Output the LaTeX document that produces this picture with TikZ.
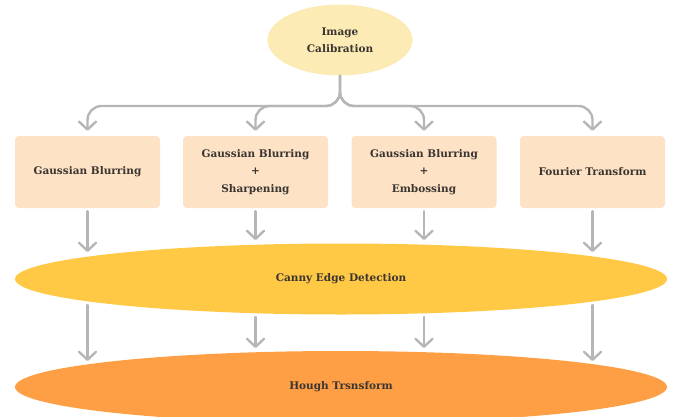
\documentclass[tikz,border=0pt]{standalone}
\usepackage{fontspec}
\setmainfont{DejaVu Serif}
\usetikzlibrary{shapes.geometric,arrows.meta}
\definecolor{boxfill}{HTML}{FEE2C6}
\definecolor{topfill}{HTML}{FDEBB5}
\definecolor{cannyfill}{HTML}{FFC845}
\definecolor{houghfill}{HTML}{FE9F45}
\definecolor{linegray}{HTML}{B6B6B6}
\definecolor{txt}{HTML}{3A3530}
\tikzset{
  x=1pt,y=1pt,
  lbl/.style={font=\bfseries\fontsize{10.5}{17.5}\selectfont, text=txt, align=center},
  procbox/.style={lbl, draw=none, fill=boxfill, rounded corners=4pt, minimum width=145pt, minimum height=72pt, inner sep=0pt},
  oval/.style={lbl, ellipse, draw=none, inner sep=0pt},
  conn/.style={draw=linegray, line width=2.4pt, line cap=round, -{Straight Barb[length=8pt,width=17pt,line width=2.4pt,round]}},
  brace/.style={conn, rounded corners=14pt, shorten >=5pt},
}
\begin{document}
\begin{tikzpicture}
\useasboundingbox (0,0) rectangle (684,416);
\begin{scope}
\clip (0,0) rectangle (684,416);
\node[oval, fill=houghfill, minimum width=652pt, minimum height=72pt] (hough) at (341,29) {Hough Trsnsform};
\end{scope}
\node[oval, fill=topfill, minimum width=145pt, minimum height=71pt] (calib) at (340,376) {Image\\Calibration};
\node[procbox] (b1) at (87.5,244) {Gaussian Blurring};
\node[procbox] (b2) at (255.5,244) {Gaussian Blurring\\+\\Sharpening};
\node[procbox] (b3) at (424,244) {Gaussian Blurring\\+\\Embossing};
\node[procbox] (b4) at (592.5,244) {Fourier Transform};
\node[oval, fill=cannyfill, minimum width=652pt, minimum height=71pt] (canny) at (341,137) {Canny Edge Detection};

% brace
\coordinate (j) at (340,310);
\coordinate (j1) at (87.5,310);
\coordinate (j2) at (255.5,310);
\coordinate (j3) at (424,310);
\coordinate (j4) at (592.5,310);
\draw[brace] (calib.south) -- (j) -- (j1) -- (b1.north);
\draw[brace] (calib.south) -- (j) -- (j2) -- (b2.north);
\draw[brace] (calib.south) -- (j) -- (j3) -- (b3.north);
\draw[brace] (calib.south) -- (j) -- (j4) -- (b4.north);

% boxes to canny
\coordinate (c1) at (87.5,164);
\coordinate (c2) at (255.5,176);
\coordinate (c3) at (424,176);
\coordinate (c4) at (592.5,164);
\draw[conn] (b1.south) ++(0,-3) -- (c1);
\draw[conn] (b2.south) ++(0,-3) -- (c2);
\draw[conn] (b3.south) ++(0,-3) -- (c3);
\draw[conn] (b4.south) ++(0,-3) -- (c4);

% canny to hough
\coordinate (h1) at (87.5,55);
\coordinate (h2) at (255.5,68);
\coordinate (h3) at (424,68);
\coordinate (h4) at (592.5,55);
\draw[conn] (87.5,111) -- (h1);
\draw[conn] (255.5,99) -- (h2);
\draw[conn] (424,99) -- (h3);
\draw[conn] (592.5,111) -- (h4);
\end{tikzpicture}
\end{document}
